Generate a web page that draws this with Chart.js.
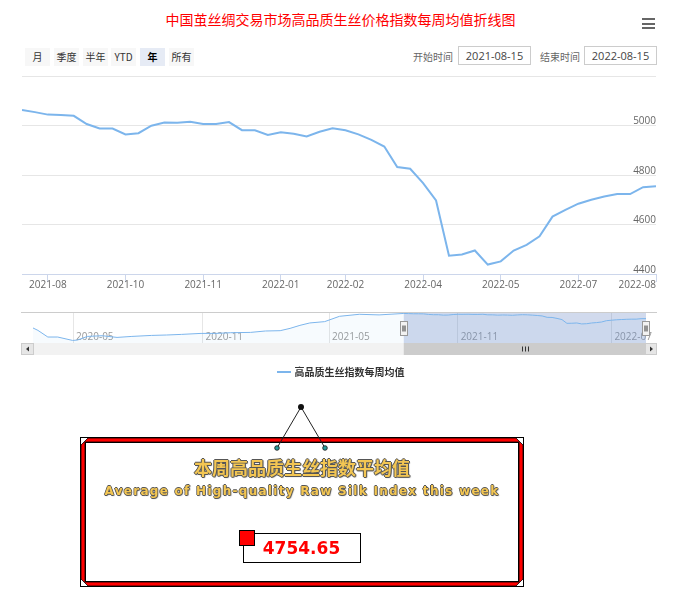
<!DOCTYPE html>
<html><head><meta charset="utf-8">
<script src="https://cdn.jsdelivr.net/npm/chart.js@4.4.1/dist/chart.umd.min.js"></script>
<style>
html,body{margin:0;padding:0;background:#fff;}
#root{position:relative;width:681px;height:595px;overflow:hidden;font-family:"Open Sans","Noto Sans CJK SC",sans-serif;}
.abs{position:absolute;}
#title{left:0;top:9px;width:681px;text-align:center;color:#f00;font-family:"Noto Sans CJK SC";font-size:14px;line-height:20px;}
.bar{position:absolute;left:642px;width:13px;height:2px;background:#666;}
.btn{position:absolute;top:48px;height:18px;width:25px;line-height:18px;text-align:center;font-size:10px;color:#333;background:#f7f7f7;font-family:"Noto Sans CJK SC","Open Sans";}
.btn.sel{background:#e6ebf5;font-weight:bold;color:#000;}
.lbl{position:absolute;top:48px;line-height:18px;font-size:10px;color:#666;font-family:"Noto Sans CJK SC";}
.inp{position:absolute;top:46px;height:19px;width:73px;border:1px solid #ccc;box-sizing:border-box;line-height:17px;text-align:center;font-size:11px;color:#444;font-family:"Open Sans";}
#legend{position:absolute;top:364px;left:0;width:681px;text-align:center;font-size:10px;line-height:16px;color:#333;font-family:"Noto Sans CJK SC";font-weight:bold;}
#legend .sym{display:inline-block;width:14px;height:2px;background:#7cb5ec;vertical-align:middle;margin-right:4px;position:relative;top:-1px;}
.ptxt{position:absolute;left:80px;width:444px;text-align:center;font-weight:bold;color:#f3c653;white-space:nowrap;}
#cn{top:455px;font-size:18px;line-height:24px;font-family:"Noto Sans CJK SC";text-shadow:-1px 0 #555,1px 0 #555,0 -1px #555,0 1px #555,1px 1px 1px #777;}
#en{top:482px;font-size:12px;line-height:18px;font-family:"DejaVu Sans";text-shadow:-0.8px 0 #555,0.8px 0 #555,0 -0.8px #555,0 0.8px #555,1px 1px 1px #888;}
#val{position:absolute;left:243px;top:536px;width:117px;text-align:center;color:#f00;font:bold 17px "DejaVu Sans";line-height:24px;}
</style></head>
<body><div id="root">
<div id="title" class="abs">中国茧丝绸交易市场高品质生丝价格指数每周均值折线图</div>
<div class="bar" style="top:18px"></div><div class="bar" style="top:22.5px"></div><div class="bar" style="top:27px"></div>
<div class="btn" style="left:25px">月</div>
<div class="btn" style="left:54px">季度</div>
<div class="btn" style="left:83px">半年</div>
<div class="btn" style="left:111px">YTD</div>
<div class="btn sel" style="left:140px">年</div>
<div class="btn" style="left:169px">所有</div>
<div class="lbl" style="left:413px">开始时间</div>
<div class="inp" style="left:458px" id="startBox"></div>
<div class="lbl" style="left:540px">结束时间</div>
<div class="inp" style="left:584px" id="endBox"></div>
<canvas id="main" class="abs" style="left:0;top:60px" width="681" height="250"></canvas>
<canvas id="nav" class="abs" style="left:0;top:300px" width="681" height="62"></canvas>
<div id="legend"><span class="sym"></span><span id="legTxt"></span></div>
<svg class="abs" style="left:0;top:0" width="681" height="595">
  <rect x="80.5" y="437.5" width="443" height="149" fill="#fff" stroke="#000" stroke-width="1"/>
  <path fill="#f00" fill-rule="evenodd" stroke="#000" stroke-width="0.8"
    d="M88,438 L516,438 L523,445 L523,579 L516,586 L88,586 L81,579 L81,445 Z M85,442 L519,442 L519,582 L85,582 Z"/>
  <rect x="85.5" y="442.5" width="433" height="139" fill="none" stroke="#000" stroke-width="1"/>
  <line x1="301" y1="407" x2="277" y2="448" stroke="#222" stroke-width="1"/>
  <line x1="301" y1="407" x2="325" y2="448" stroke="#222" stroke-width="1"/>
  <circle cx="301" cy="407" r="3" fill="#111"/>
  <circle cx="277" cy="448" r="2.3" fill="#2a9d9d" stroke="#111" stroke-width="0.8"/>
  <circle cx="325" cy="448" r="2.3" fill="#2a9d9d" stroke="#111" stroke-width="0.8"/>
  <rect x="243.5" y="533.5" width="117" height="29" fill="#fff" stroke="#000" stroke-width="1"/>
  <rect x="239.5" y="530.5" width="15" height="15" fill="#f00" stroke="#000" stroke-width="1"/>
</svg>
<div id="cn" class="ptxt">本周高品质生丝指数平均值</div>
<div id="en" class="ptxt">Average of High-quality Raw Silk Index this week</div>
<div id="val"></div>
</div>
<script>
// ---- data ----
const seriesName = '高品质生丝指数每周均值';
const silkIndex = [5063,5054,5044,5042,5039,5006,4988,4988,4964,4969,4999,5012,5011,5015,5006,5006,5014,4981,4981,4962,4973,4967,4956,4975,4989,4981,4964,4942,4915,4832,4825,4767,4697,4474,4479,4495,4438,4451,4495,4518,4552,4632,4659,4684,4700,4713,4723,4723,4751,4754.65];
const xTickPositions = [2,8,14,20,25,31,37,43,49];
const xTickLabels = ['2021-08','2021-10','2021-11','2022-01','2022-02','2022-04','2022-05','2022-07','2022-08'];
const yTicks = [4400,4600,4800,5000,5200];
const historyWeeks = [0,1,3,5,8,9,11,14,17,20,24,27,30,34,37,40,44,47,50,52,54,56,59,62,66,70];
const historyValues = [4197,4053,3657,3657,3453,3477,3693,3735,3633,3693,3753,3777,3813,3873,3873,3915,3933,4017,4035,4173,4353,4497,4575,4893,5013,4977];
const navStart = 75;
const navTickPositions = [8.1,34.3,59.9,85.9,117];
const navTickLabels = ['2020-05','2020-11','2021-05','2021-11','2022-07'];
const startDate = '2021-08-15', endDate = '2022-08-15';

document.getElementById('startBox').textContent = startDate;
document.getElementById('endBox').textContent = endDate;
document.getElementById('legTxt').textContent = seriesName;
document.getElementById('val').textContent = silkIndex[silkIndex.length-1].toFixed(2);

// fit English line width
(function(){
  const el = document.getElementById('en');
  const c = document.createElement('canvas').getContext('2d');
  c.font = 'bold 12px "DejaVu Sans"';
  const t = el.textContent; const w = c.measureText(t).width;
  el.style.letterSpacing = ((395 - w) / t.length) + 'px';
})();

// keep the last x label inside the plot (right-aligned at the edge)
const edgeLabel = {
  id:'edgeLabel',
  beforeDraw(chart){
    const s = chart.scales.x;
    const items = s.getLabelItems(chart.chartArea);
    if (items.length) { items[items.length-1].options.textAlign = 'right'; }
  }
};

const mainPts = silkIndex.map((v,i)=>({x:i,y:v}));
new Chart(document.getElementById('main'), {
  type:'line',
  data:{datasets:[{label:seriesName,data:mainPts,borderColor:'#7cb5ec',borderWidth:2,pointRadius:0,tension:0,fill:false}]},
  options:{
    responsive:false,animation:false,
    layout:{padding:{left:22,right:25,top:16,bottom:10}},
    plugins:{legend:{display:false},tooltip:{enabled:false}},
    scales:{
      x:{type:'linear',min:0,max:silkIndex.length-1,
        afterBuildTicks:s=>{s.ticks=xTickPositions.map(v=>({value:v}));},
        afterFit:s=>{s.height=26;},
        grid:{drawOnChartArea:false,drawTicks:true,tickLength:8,color:'#ccd6eb'},
        border:{color:'#ccd6eb'},
        ticks:{autoSkip:false,maxRotation:0,padding:-3,color:'#666',font:{family:'Open Sans',size:10},
          callback:v=>xTickLabels[xTickPositions.indexOf(v)]}},
      y:{position:'right',min:4400,max:5200,
        afterBuildTicks:s=>{s.ticks=yTicks.map(v=>({value:v}));},
        afterFit:s=>{s.width=0;},
        grid:{drawTicks:false,color:c=>c.tick&&c.tick.value===4400?'#ccd6eb':'#e6e6e6'},
        border:{display:false},
        ticks:{mirror:true,padding:0,labelOffset:-4,color:'#666',font:{family:'Open Sans',size:10},
          callback:v=>v===5200?'':String(v)}}
    }
  },
  plugins:[edgeLabel]
});

const navPts = historyWeeks.map((w,i)=>({x:w,y:historyValues[i]})).concat(silkIndex.map((v,i)=>({x:navStart+i,y:v})));
const navEnd = navStart + silkIndex.length - 1;
const navDeco = {
  id:'navDeco',
  beforeDatasetsDraw(chart){
    const ctx=chart.ctx, a=chart.chartArea, xs=chart.scales.x;
    const x1=xs.getPixelForValue(navStart), x2=xs.getPixelForValue(navEnd);
    ctx.save();
    ctx.fillStyle='rgba(102,133,194,0.3)';
    ctx.fillRect(x1,a.top,x2-x1,a.bottom-a.top);
    ctx.restore();
  },
  afterDraw(chart){
    const ctx=chart.ctx, a=chart.chartArea, xs=chart.scales.x;
    const x1=xs.getPixelForValue(navStart), x2=xs.getPixelForValue(navEnd);
    const L=21, R=657, sy=a.bottom, sh=12;
    ctx.save();
    ctx.strokeStyle='#cccccc';ctx.lineWidth=1;
    ctx.beginPath();ctx.moveTo(L,a.top+0.5);ctx.lineTo(R,a.top+0.5);ctx.stroke();
    ctx.fillStyle='#f2f2f2';ctx.fillRect(L,sy,R-L,sh);
    ctx.fillStyle='#cccccc';ctx.fillRect(x1,sy,x2-x1,sh);
    ctx.strokeStyle='#333';ctx.lineWidth=1;
    const cx=Math.round((x1+x2)/2);
    for(const d of [-3,0,3]){ctx.beginPath();ctx.moveTo(cx+d+0.5,sy+3.5);ctx.lineTo(cx+d+0.5,sy+8.5);ctx.stroke();}
    ctx.fillStyle='#e6e6e6';ctx.strokeStyle='#cccccc';
    ctx.fillRect(L,sy,13,sh);ctx.strokeRect(L+0.5,sy+0.5,12,sh-1);
    ctx.fillRect(R-12,sy,12,sh);ctx.strokeRect(R-11.5,sy+0.5,11,sh-1);
    ctx.fillStyle='#333';
    ctx.beginPath();ctx.moveTo(L+5,sy+6);ctx.lineTo(L+8,sy+3.5);ctx.lineTo(L+8,sy+8.5);ctx.closePath();ctx.fill();
    ctx.beginPath();ctx.moveTo(R-4,sy+6);ctx.lineTo(R-7,sy+3.5);ctx.lineTo(R-7,sy+8.5);ctx.closePath();ctx.fill();
    for(const hx of [x1,x2]){
      const x=Math.round(hx)-3.5, y=a.top+9.5;
      ctx.fillStyle='#f2f2f2';ctx.strokeStyle='#999';ctx.fillRect(x,y,7,14);ctx.strokeRect(x,y,7,14);
      ctx.strokeStyle='#333';
      ctx.beginPath();ctx.moveTo(x+2.5,y+4);ctx.lineTo(x+2.5,y+10);ctx.moveTo(x+4.5,y+4);ctx.lineTo(x+4.5,y+10);ctx.stroke();
    }
    ctx.restore();
  }
};
new Chart(document.getElementById('nav'), {
  type:'line',
  data:{datasets:[{label:seriesName,data:navPts,borderColor:'#7cb5ec',borderWidth:1,pointRadius:0,tension:0,fill:'start',backgroundColor:'rgba(124,181,236,0.06)'}]},
  options:{
    responsive:false,animation:false,
    layout:{padding:{left:33,right:35,top:12,bottom:19}},
    plugins:{legend:{display:false},tooltip:{enabled:false}},
    scales:{
      x:{type:'linear',min:0,max:navEnd,
        afterBuildTicks:s=>{s.ticks=navTickPositions.map(v=>({value:v}));},
        afterFit:s=>{s.height=0;},
        grid:{drawTicks:false,color:'#e6e6e6'},
        border:{display:false},
        ticks:{mirror:true,align:'start',labelOffset:3,padding:0,autoSkip:false,maxRotation:0,color:'#999',font:{family:'Open Sans',size:10},
          callback:v=>navTickLabels[navTickPositions.indexOf(v)]}},
      y:{display:false,min:3300,max:5150}
    }
  },
  plugins:[navDeco]
});
</script>
</body></html>
